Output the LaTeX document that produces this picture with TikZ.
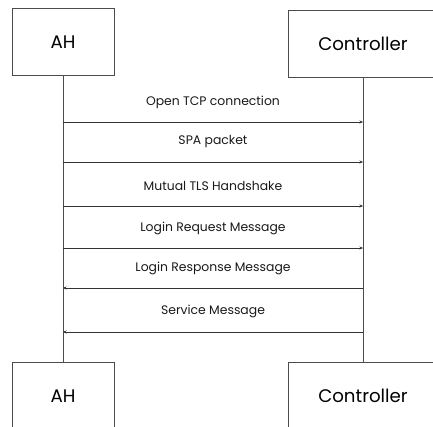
\documentclass[tikz,border=0pt]{standalone}
\usepackage{fontspec}
\setmainfont{Poppins}
\usetikzlibrary{arrows.meta}
\tikzset{
  actor/.style={draw=black!70, line width=0.8pt, fill=white, inner sep=0pt, minimum height=67pt, font=\fontsize{18.2}{22}\selectfont},
  life/.style={draw=black!70, line width=0.8pt},
  msg/.style={draw=black!80, line width=0.8pt, -{Stealth[length=3.5pt,width=3pt]}},
  lbl/.style={font=\fontsize{12.4}{14}\selectfont, text=black!90}
}
\begin{document}
\begin{tikzpicture}[x=1pt,y=-1pt]
\useasboundingbox (0,0) rectangle (433,427);
\clip (0,0) rectangle (433,427);
\node[actor, minimum width=102pt] (ah1) at (63,42) {AH};
\node[actor, minimum width=150pt] (c1) at (363,43.5) {Controller};
\node[actor, minimum width=102pt, anchor=north] (ah2) at (63,362) {AH};
\node[actor, minimum width=150pt, anchor=north] (c2) at (363,362) {Controller};
\draw[life] (ah1.south) -- (ah2.north);
\draw[life] (c1.south) -- (c2.north);
\coordinate (a1) at (63,122); \coordinate (b1) at (363,122);
\coordinate (a2) at (63,162); \coordinate (b2) at (363,162);
\coordinate (a3) at (63,206); \coordinate (b3) at (363,206);
\coordinate (a4) at (63,248); \coordinate (b4) at (363,248);
\coordinate (a5) at (63,288); \coordinate (b5) at (363,288);
\coordinate (a6) at (63,332); \coordinate (b6) at (363,332);
\draw[msg] (a1) -- (b1);
\draw[msg] (a2) -- (b2);
\draw[msg] (a3) -- (b3);
\draw[msg] (a4) -- (b4);
\draw[msg] (b5) -- (a5);
\draw[msg] (b6) -- (a6);
\node[lbl] (l1) at (213,102) {Open TCP connection};
\node[lbl] (l2) at (213,142) {SPA packet};
\node[lbl] (l3) at (213,185.5) {Mutual TLS Handshake};
\node[lbl] (l4) at (213,228) {Login Request Message};
\node[lbl] (l5) at (213,268) {Login Response Message};
\node[lbl] (l6) at (213,311.5) {Service Message};
\end{tikzpicture}
\end{document}
